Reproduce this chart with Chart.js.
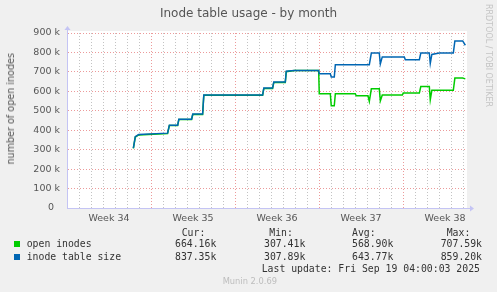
<!DOCTYPE html>
<html>
<head>
<meta charset="utf-8">
<script src="https://cdn.jsdelivr.net/npm/chart.js@4/dist/chart.umd.min.js"></script>
<style>
body { margin: 0; background: #f0f0f0; }
#wrap { position: relative; width: 497px; height: 292px; overflow: hidden; }
#c { display: block; }
.t { position: absolute; white-space: pre; line-height: 12px; font-family: 'DejaVu Sans Mono', monospace; font-size: 9.8px; color: #333; }
.box { position: absolute; width: 6px; height: 6px; }
</style>
</head>
<body>
<div id="wrap">
<canvas id="c" width="497" height="292"></canvas>
</div>
<script>
// x in days since start of week 34, y in thousands
var weekLabels = ['Week 34', 'Week 35', 'Week 36', 'Week 37', 'Week 38'];

var openDays = [5.53, 5.69, 5.97, 8.38, 8.53, 9.22, 9.32, 10.38, 10.48, 11.3, 11.4, 16.3, 16.4, 17.13, 17.23, 18.19, 18.27, 18.94, 20.97, 21.02, 21.94, 22.02, 22.27, 22.36, 24.02, 24.1, 25.08, 25.19, 25.36, 26.02, 26.11, 26.27, 27.94, 28.02, 29.36, 29.48, 30.19, 30.27, 30.4, 32.19, 32.32, 32.97, 33.19];
var openInodes = [307, 365, 376, 383, 424, 424, 455, 455, 481, 481, 580, 580, 615, 615, 646, 646, 701, 707, 707, 588, 588, 526, 526, 588, 588, 577, 577, 548, 613, 613, 551, 581, 581, 591, 591, 625, 625, 557, 605, 605, 668, 668, 664];

var tableDays = [5.53, 5.69, 5.97, 8.38, 8.53, 9.22, 9.32, 10.38, 10.48, 11.3, 11.4, 16.3, 16.4, 17.13, 17.23, 18.19, 18.27, 18.94, 20.97, 21.02, 21.94, 22.02, 22.27, 22.36, 25.19, 25.36, 26.02, 26.11, 26.27, 28.11, 28.19, 29.36, 29.48, 30.19, 30.27, 30.4, 31.02, 32.19, 32.32, 32.97, 33.19];
var tableSize = [308, 367, 378, 385, 426, 426, 457, 457, 483, 483, 581, 581, 617, 617, 648, 648, 703, 707, 707, 690, 690, 674, 674, 737, 737, 797, 797, 741, 777, 777, 763, 763, 797, 797, 744, 790, 797, 797, 859, 859, 837];

var seriesNames = ['open inodes', 'inode table size'];
var curVals = ['664.16k', '837.35k'];
var minVals = ['307.41k', '307.89k'];
var avgVals = ['568.90k', '643.77k'];
var maxVals = ['707.59k', '859.20k'];
var lastUpdate = 'Last update: Fri Sep 19 04:00:03 2025';

var majorGrid = 'rgba(230,120,120,0.75)';
var minorGrid = 'rgba(170,170,170,0.7)';
var axisColor = '#c4c4f4';

function points(xs, ys) {
    var out = [];
    for (var i = 0; i < xs.length; i++) out.push({ x: xs[i], y: ys[i] * 1000 });
    return out;
}

var plotBg = {
    id: 'plotBg',
    beforeDraw: function (chart) {
        var a = chart.chartArea, ctx = chart.ctx;
        ctx.save();
        ctx.fillStyle = '#ffffff';
        ctx.fillRect(a.left, a.top - 2, a.right - a.left, a.bottom - a.top + 2);
        ctx.restore();
    }
};

// little arrow heads at the end of the axes
var arrows = {
    id: 'arrows',
    afterDraw: function (chart) {
        var a = chart.chartArea, ctx = chart.ctx;
        var x = Math.round(a.left) + 0.5, y = Math.round(a.bottom) + 0.5;
        ctx.save();
        ctx.strokeStyle = axisColor;
        ctx.fillStyle = axisColor;
        ctx.lineWidth = 1;
        ctx.beginPath();
        ctx.moveTo(x, a.top); ctx.lineTo(x, a.top - 3);
        ctx.moveTo(a.right, y); ctx.lineTo(a.right + 3, y);
        ctx.stroke();
        ctx.beginPath();
        ctx.moveTo(x - 3, a.top - 3); ctx.lineTo(x + 3, a.top - 3); ctx.lineTo(x, a.top - 7); ctx.closePath();
        ctx.fill();
        ctx.beginPath();
        ctx.moveTo(a.right + 3, y - 3); ctx.lineTo(a.right + 3, y + 3); ctx.lineTo(a.right + 7, y); ctx.closePath();
        ctx.fill();
        ctx.restore();
    }
};

Chart.defaults.font.family = 'DejaVu Sans';

new Chart(document.getElementById('c'), {
    type: 'line',
    data: {
        datasets: [{
            label: seriesNames[0],
            data: points(openDays, openInodes),
            borderColor: '#00cc00',
            borderWidth: 1.5,
            pointRadius: 0,
            order: 2
        }, {
            label: seriesNames[1],
            data: points(tableDays, tableSize),
            borderColor: '#0066b3',
            borderWidth: 1.5,
            pointRadius: 0,
            order: 1
        }]
    },
    options: {
        responsive: false,
        animation: false,
        layout: { padding: 0 },
        plugins: {
            legend: { display: false },
            tooltip: { enabled: false },
            title: {
                display: true,
                text: 'Inode table usage - by month',
                color: '#555',
                font: { size: 12, weight: 'normal' },
                padding: { top: 7, bottom: 11.6 }
            }
        },
        scales: {
            x: {
                type: 'linear',
                min: 0,
                max: 33.33,
                afterBuildTicks: function (s) {
                    s.ticks = [];
                    for (var i = 0; i <= 66; i++) s.ticks.push({ value: i / 2 });
                },
                afterFit: function (s) { s.height = 84; },
                ticks: {
                    autoSkip: false,
                    maxRotation: 0,
                    padding: 5,
                    color: '#555',
                    font: { size: 9.5 },
                    callback: function (v) {
                        return (v % 7 === 3.5) ? weekLabels[Math.floor(v / 7)] : '';
                    }
                },
                grid: {
                    drawTicks: false,
                    color: function (ctx) {
                        var v = ctx.tick.value;
                        if (v % 1 !== 0) return 'rgba(0,0,0,0)';
                        return v % 7 === 0 ? majorGrid : minorGrid;
                    }
                },
                border: { color: axisColor, dash: [1, 2] }
            },
            y: {
                min: 0,
                max: 900000,
                afterBuildTicks: function (s) {
                    s.ticks = [];
                    for (var v = 0; v <= 900000; v += 50000) s.ticks.push({ value: v });
                },
                afterFit: function (s) { s.width = 67; },
                ticks: {
                    padding: 7,
                    color: '#555',
                    font: { size: 9.5 },
                    callback: function (v) {
                        if (v % 100000 !== 0) return '';
                        return v === 0 ? '0  ' : (v / 1000) + ' k';
                    }
                },
                grid: {
                    drawTicks: false,
                    color: function (ctx) {
                        return ctx.tick.value % 100000 === 0 ? majorGrid : minorGrid;
                    }
                },
                border: { color: axisColor, dash: [1, 2] }
            },
            // empty right margin so the title centres on the whole image
            yPad: {
                type: 'linear',
                axis: 'y',
                position: 'right',
                display: true,
                grid: { display: false },
                ticks: { display: false },
                border: { display: false },
                afterFit: function (s) { s.width = 30; }
            }
        }
    },
    plugins: [plotBg, arrows]
});

// legend / stats block under the graph
var wrap = document.getElementById('wrap');
function put(text, left, cy, style) {
    var d = document.createElement('div');
    d.className = 't';
    d.textContent = text;
    d.style.left = left + 'px';
    d.style.top = (cy - 6) + 'px';
    if (style) for (var k in style) d.style[k] = style[k];
    wrap.appendChild(d);
    return d;
}

var yt = put('number of open inodes', 11, 109, { fontFamily: 'DejaVu Sans', fontSize: '9.6px', color: '#555' });
yt.style.left = '0px';
yt.style.transformOrigin = '0 0';
yt.style.transform = 'translate(' + (11 - 6) + 'px, ' + (109 + yt.offsetWidth / 2 + 6) + 'px) rotate(-90deg)';
yt.style.top = '-6px';

put('Cur:', 181.7, 232.7);
put('Min:', 269.3, 232.7);
put('Avg:', 352, 232.7);
put('Max:', 446.7, 232.7);

var rowY = [244.3, 256.7];
var boxColors = ['#00cc00', '#0066b3'];
for (var i = 0; i < seriesNames.length; i++) {
    var b = document.createElement('div');
    b.className = 'box';
    b.style.left = '14px';
    b.style.top = (rowY[i] - 3) + 'px';
    b.style.background = boxColors[i];
    wrap.appendChild(b);
    put(seriesNames[i], 26.7, rowY[i]);
    put(curVals[i], 175, rowY[i]);
    put(minVals[i], 264, rowY[i]);
    put(avgVals[i], 352, rowY[i]);
    put(maxVals[i], 440.7, rowY[i]);
}
put(lastUpdate, 261.7, 269);
put('Munin 2.0.69', 222.7, 280.7, { fontFamily: 'DejaVu Sans', fontSize: '8.3px', color: '#bdbdbd' });
put('RRDTOOL / TOBI OETIKER', 484, 50, { fontFamily: 'DejaVu Sans', fontSize: '8px', color: '#c4c4c4', writingMode: 'vertical-rl', top: '4px', lineHeight: '9px' });
</script>
</body>
</html>
